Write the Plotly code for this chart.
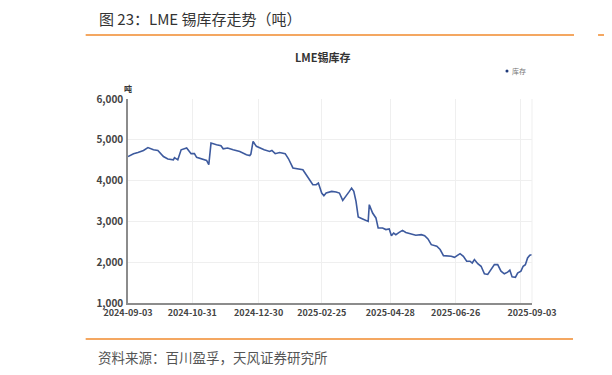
import plotly.graph_objects as go

dates = [
    "2024-09-03", "2024-09-08", "2024-09-12", "2024-09-17", "2024-09-21", "2024-09-26", "2024-09-30",
    "2024-10-05", "2024-10-09", "2024-10-14", "2024-10-15", "2024-10-18", "2024-10-21", "2024-10-26",
    "2024-10-30", "2024-11-02", "2024-11-04", "2024-11-08", "2024-11-13", "2024-11-15", "2024-11-17",
    "2024-11-22", "2024-11-26", "2024-11-28", "2024-12-02", "2024-12-07", "2024-12-13", "2024-12-19",
    "2024-12-22", "2024-12-23", "2024-12-25", "2024-12-28", "2024-12-31", "2025-01-04", "2025-01-09",
    "2025-01-11", "2025-01-14", "2025-01-18", "2025-01-23", "2025-01-26", "2025-01-30", "2025-02-04",
    "2025-02-08", "2025-02-11", "2025-02-14", "2025-02-17", "2025-02-20", "2025-02-22", "2025-02-25",
    "2025-02-27", "2025-03-01", "2025-03-06", "2025-03-10", "2025-03-13", "2025-03-16", "2025-03-19",
    "2025-03-22", "2025-03-24", "2025-03-26", "2025-03-28", "2025-03-30", "2025-04-03", "2025-04-08",
    "2025-04-09", "2025-04-12", "2025-04-15", "2025-04-17", "2025-04-21", "2025-04-24", "2025-04-27",
    "2025-04-29", "2025-05-01", "2025-05-03", "2025-05-06", "2025-05-09", "2025-05-12", "2025-05-17",
    "2025-05-21", "2025-05-26", "2025-05-29", "2025-06-01", "2025-06-04", "2025-06-09", "2025-06-12",
    "2025-06-15", "2025-06-19", "2025-06-22", "2025-06-25", "2025-06-30", "2025-07-03", "2025-07-06",
    "2025-07-09", "2025-07-11", "2025-07-13", "2025-07-16", "2025-07-19", "2025-07-22", "2025-07-25",
    "2025-07-28", "2025-07-31", "2025-08-03", "2025-08-06", "2025-08-09", "2025-08-12", "2025-08-14",
    "2025-08-16", "2025-08-19", "2025-08-21", "2025-08-24", "2025-08-26", "2025-08-28", "2025-08-30",
    "2025-09-01", "2025-09-03",
]
inventory = [
    4590, 4660, 4690, 4740, 4810, 4755, 4740,
    4590, 4530, 4510, 4565, 4510, 4755, 4800,
    4660, 4660, 4570, 4530, 4495, 4390, 4920,
    4880, 4855, 4780, 4800, 4755, 4715, 4635,
    4615, 4650, 4960, 4840, 4800, 4755, 4715,
    4740, 4660, 4690, 4660, 4535, 4310, 4280,
    4265, 4145, 4020, 3900, 3900, 3940, 3695,
    3630, 3695, 3735, 3720, 3695, 3515, 3615,
    3735, 3815, 3735, 3490, 3110, 3060, 3000,
    3410, 3205, 3085, 2840, 2840, 2800, 2815,
    2650, 2715, 2675, 2730, 2780, 2730, 2700,
    2660, 2675, 2650, 2570, 2430, 2390, 2310,
    2160, 2160, 2145, 2120, 2210, 2145, 2025,
    2025, 1980, 2065, 1965, 1900, 1715, 1700,
    1835, 1940, 1940, 1780, 1715, 1755, 1805,
    1640, 1630, 1735, 1780, 1900, 1940, 2105,
    2170, 2185,
]

x_tick_vals = ["2024-09-03", "2024-10-31", "2024-12-30", "2025-02-25", "2025-04-28", "2025-06-26", "2025-08-24", "2025-09-03"]
x_tick_text = ["2024-09-03", "2024-10-31", "2024-12-30", "2025-02-25", "2025-04-28", "2025-06-26", "", "2025-09-03"]
y_tick_vals = [1000, 2000, 3000, 4000, 5000, 6000]

# page has an 8px body margin: the figure starts at (8, 8) in the window
OFF = 8
W, H = 612 - OFF, 375 - OFF
L, R, T, B = 128.3 - OFF, 532.0 - OFF, 99.0 - OFF, 303.0 - OFF


def px(X):
    return (X - OFF - L) / (R - L)


def py(Y):
    return (B - (Y - OFF)) / (B - T)


CJK = "Noto Sans CJK SC"

fig = go.Figure()
fig.add_trace(go.Scatter(
    x=dates, y=inventory, mode="lines", name="库存",
    line=dict(color="#3d5a9e", width=1.6),
    showlegend=False,
))

fig.update_layout(
    width=W, height=H,
    margin=dict(l=L, r=W - R, t=T, b=H - B, pad=0),
    paper_bgcolor="white", plot_bgcolor="white",
    font=dict(family=CJK, color="#333333"),
    showlegend=False,
    xaxis=dict(
        type="date", range=["2024-09-03", "2025-09-03"],
        tickmode="array", tickvals=x_tick_vals, ticktext=x_tick_text,
        showgrid=True, gridcolor="#efefef", gridwidth=1,
        showline=True, linecolor="#8c8c8c", linewidth=1.5,
        ticks="", tickfont=dict(size=9, color="#444444", family=CJK, weight="bold"),
        zeroline=False,
    ),
    yaxis=dict(
        range=[1000, 6000], tickmode="array", tickvals=y_tick_vals,
        tickformat=",", showgrid=True, gridcolor="#efefef", gridwidth=1,
        showline=True, linecolor="#8c8c8c", linewidth=1.5,
        ticks="outside", ticklen=1, tickcolor="rgba(0,0,0,0)",
        tickfont=dict(size=10, color="#444444", family=CJK, weight="bold"),
        zeroline=False,
    ),
)

# right border
fig.add_shape(type="line", xref="paper", yref="paper", x0=1, x1=1, y0=0, y1=1,
              line=dict(color="#efefef", width=1))

# header
fig.add_annotation(xref="paper", yref="paper", x=px(97), y=py(18), xanchor="left", yanchor="middle",
                   text="图 23：LME 锡库存走势（吨）", showarrow=False,
                   font=dict(size=15, color="#333333", family=CJK))
fig.add_shape(type="line", xref="paper", yref="paper", x0=px(86), x1=px(574), y0=py(35), y1=py(35),
              line=dict(color="#f08a2c", width=1.5))
fig.add_shape(type="line", xref="paper", yref="paper", x0=px(598), x1=px(612), y0=py(35), y1=py(35),
              line=dict(color="#f08a2c", width=1.5))
fig.add_annotation(xref="paper", yref="paper", x=px(603), y=py(18), xanchor="left", yanchor="middle",
                   text="图", showarrow=False,
                   font=dict(size=15, color="#333333", family=CJK))

# chart title
fig.add_annotation(xref="paper", yref="paper", x=px(323), y=py(57), xanchor="center", yanchor="middle",
                   text="LME锡库存", showarrow=False,
                   font=dict(size=11, color="#333333", family=CJK, weight="bold"))

# legend
fig.add_annotation(xref="paper", yref="paper", x=px(510), y=py(71), xanchor="left", yanchor="middle",
                   text="库存", showarrow=False,
                   font=dict(size=7, color="#777777", family=CJK))
fig.add_shape(type="circle", xref="paper", yref="paper",
              x0=px(505.5), x1=px(508.5), y0=py(72.5), y1=py(69.5),
              fillcolor="#1f3a7a", line=dict(width=0))

# unit
fig.add_annotation(xref="paper", yref="paper", x=px(128), y=py(88), xanchor="center", yanchor="middle",
                   text="吨", showarrow=False,
                   font=dict(size=8, color="#333333", family=CJK, weight="bold"))

# footer
fig.add_shape(type="line", xref="paper", yref="paper", x0=px(86), x1=px(573), y0=py(339), y1=py(339),
              line=dict(color="#f08a2c", width=1.5))
fig.add_annotation(xref="paper", yref="paper", x=px(96), y=py(357), xanchor="left", yanchor="middle",
                   text="资料来源：百川盈孚，天风证券研究所", showarrow=False,
                   font=dict(size=13.5, color="#555555", family=CJK))

fig.write_html("out.html")
